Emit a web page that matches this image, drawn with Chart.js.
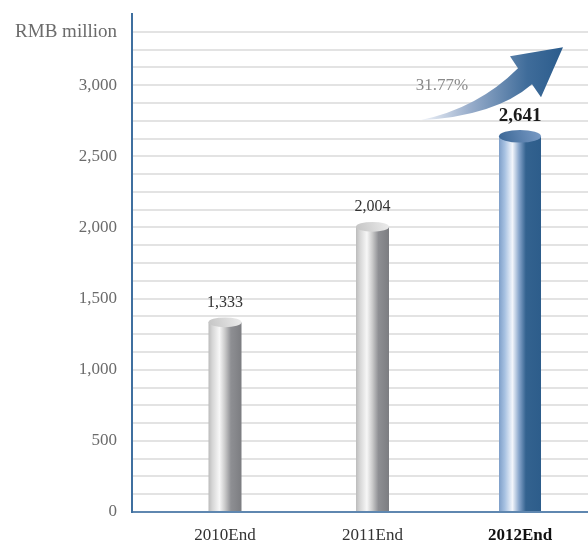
<!DOCTYPE html>
<html>
<head>
<meta charset="utf-8">
<script src="https://cdn.jsdelivr.net/npm/chart.js@4/dist/chart.umd.min.js"></script>
<style>
  body { margin: 0; background: #fff; }
  #wrap { width: 588px; height: 542px; position: relative; }
</style>
</head>
<body>
<div id="wrap"><canvas id="loanChart"></canvas></div>
<script>
// Chart data ------------------------------------------------------------->

const categories = ['2010End', '2011End', '2012End'];
const values = [1333, 2004, 2641];
const yTickValues = [0, 500, 1000, 1500, 2000, 2500, 3000];
const yTickLabels = ['0', '500', '1,000', '1,500', '2,000', '2,500', '3,000'];
const unitLabel = 'RMB million';
const unitTick = 3375;
const growthLabel = '31.77%';

const serif = '"Liberation Serif", "DejaVu Serif", serif';

// colour stops across the width of a cylinder
const greyBody = [[0, '#bcbcbc'], [0.12, '#d6d6d6'], [0.33, '#f7f7f7'], [0.5, '#c9c9c9'], [0.68, '#8e8f93'], [1, '#7c7d81']];
const greyCap = ['#c4c4c4', '#ececec'];
const blueBody = [[0, '#7e9fc9'], [0.14, '#a8c2e2'], [0.32, '#f3f6fb'], [0.48, '#86a4ca'], [0.64, '#33628f'], [1, '#2d5d8b']];
const blueCap = ['#3a6695', '#7b9cc6'];

const lastIdx = values.length - 1;

// Cylinder bars, value labels and growth arrow ---------------------------->

const cylinders = {
  id: 'cylinders',
  afterDatasetsDraw(chart) {
    const ctx = chart.ctx;
    chart.data.datasets.forEach((ds, di) => {
      const meta = chart.getDatasetMeta(di);
      meta.data.forEach((bar, i) => {
        const p = bar.getProps(['x', 'y', 'base', 'width'], true);
        const left = p.x - p.width / 2;
        const ry = p.width * 0.15;

        ctx.save();
        const g = ctx.createLinearGradient(left, 0, left + p.width, 0);
        ds.body.forEach(s => g.addColorStop(s[0], s[1]));
        ctx.fillStyle = g;
        ctx.fillRect(left, p.y, p.width, p.base - p.y);

        const c = ctx.createLinearGradient(left, p.y + ry, left + p.width, p.y - ry);
        c.addColorStop(0, ds.cap[0]);
        c.addColorStop(1, ds.cap[1]);
        ctx.fillStyle = c;
        ctx.beginPath();
        ctx.ellipse(p.x, p.y, p.width / 2, ry, 0, 0, Math.PI * 2);
        ctx.fill();

        // value label
        ctx.font = ds.labelFont;
        ctx.fillStyle = ds.labelColor;
        ctx.textAlign = 'center';
        ctx.textBaseline = 'middle';
        ctx.fillText(ds.data[i].y.toLocaleString('en-US'), p.x, p.y - 20);
        ctx.restore();
      });
    });

    // growth arrow next to the last bar
    const meta = chart.getDatasetMeta(1);
    const last = meta.data[0];
    if (!last) return;
    const cx = last.x, yb = last.y;
    ctx.save();
    const ag = ctx.createLinearGradient(cx - 100, 0, cx + 43, 0);
    ag.addColorStop(0, '#f2f5fa');
    ag.addColorStop(0.35, '#98adcb');
    ag.addColorStop(0.75, '#3f6c9a');
    ag.addColorStop(1, '#2b5c8c');
    ctx.fillStyle = ag;
    ctx.beginPath();
    ctx.moveTo(cx - 100, yb - 16);
    ctx.quadraticCurveTo(cx - 42, yb - 28, cx - 2, yb - 68);
    ctx.lineTo(cx - 10, yb - 80);
    ctx.lineTo(cx + 43, yb - 89);
    ctx.lineTo(cx + 21, yb - 39);
    ctx.lineTo(cx + 12, yb - 52);
    ctx.quadraticCurveTo(cx - 25, yb - 20, cx - 100, yb - 16);
    ctx.closePath();
    ctx.fill();

    ctx.font = '17px ' + serif;
    ctx.fillStyle = '#8a8a8a';
    ctx.textAlign = 'center';
    ctx.textBaseline = 'middle';
    ctx.fillText(growthLabel, cx - 78, yb - 51);
    ctx.restore();
  }
};

// Chart ------------------------------------------------------------------>

const el = document.getElementById('loanChart');

new Chart(el, {
  type: 'bar',
  data: {
    datasets: [{
      data: values.slice(0, lastIdx).map((v, i) => ({ x: i, y: v })),
      backgroundColor: 'rgba(0,0,0,0)',
      maxBarThickness: 33,
      body: greyBody,
      cap: greyCap,
      labelFont: '16px ' + serif,
      labelColor: '#333333',
    }, {
      data: [{ x: lastIdx, y: values[lastIdx] }],
      backgroundColor: 'rgba(0,0,0,0)',
      maxBarThickness: 42,
      body: blueBody,
      cap: blueCap,
      labelFont: 'bold 19px ' + serif,
      labelColor: '#1a1a1a',
    }]
  },
  plugins: [cylinders],
  options: {
    responsive: true,
    maintainAspectRatio: false,
    animation: false,
    grouped: false,
    layout: { padding: { top: 14, right: 0, left: 0, bottom: 0 } },
    plugins: {
      legend: { display: false },
      tooltip: { enabled: false },
    },
    scales: {
      x: {
        type: 'linear',
        offset: false,
        min: -0.6305,
        max: 2.461,
        afterBuildTicks(scale) {
          scale.ticks = categories.map((c, i) => ({ value: i }));
        },
        afterFit(scale) { scale.height = 30; },
        grid: { display: false, drawTicks: false },
        border: { color: '#5f87b0', width: 2 },
        ticks: {
          autoSkip: false,
          maxRotation: 0,
          padding: 13,
          callback: (v) => categories[v],
          color: (c) => c.index === lastIdx ? '#111111' : '#333333',
          font: (c) => ({
            family: serif,
            size: 17,
            weight: c.index === lastIdx ? 'bold' : 'normal',
          }),
        }
      },
      y: {
        min: 0,
        max: 3500,
        afterBuildTicks(scale) {
          const t = [];
          for (let v = 0; v <= 3500; v += 125) t.push({ value: v });
          scale.ticks = t;
        },
        afterFit(scale) {
          scale.width = 132;
          scale.paddingTop = 0;
          scale.paddingBottom = 0;
        },
        grid: {
          drawTicks: false,
          lineWidth: 2,
          color: (c) => (c.tick && c.tick.value === 3500) ? 'rgba(0,0,0,0)' : '#e3e3e3',
        },
        border: { color: '#3f6f9f', width: 2 },
        ticks: {
          autoSkip: false,
          padding: 15,
          color: '#6b6b6b',
          callback: (v) => {
            if (v === unitTick) return unitLabel;
            const k = yTickValues.indexOf(v);
            return k >= 0 ? yTickLabels[k] : '';
          },
          font: (c) => ({
            family: serif,
            size: (c.tick && c.tick.value === unitTick) ? 19 : 17,
          }),
        }
      }
    }
  }
});
</script>
</body>
</html>
